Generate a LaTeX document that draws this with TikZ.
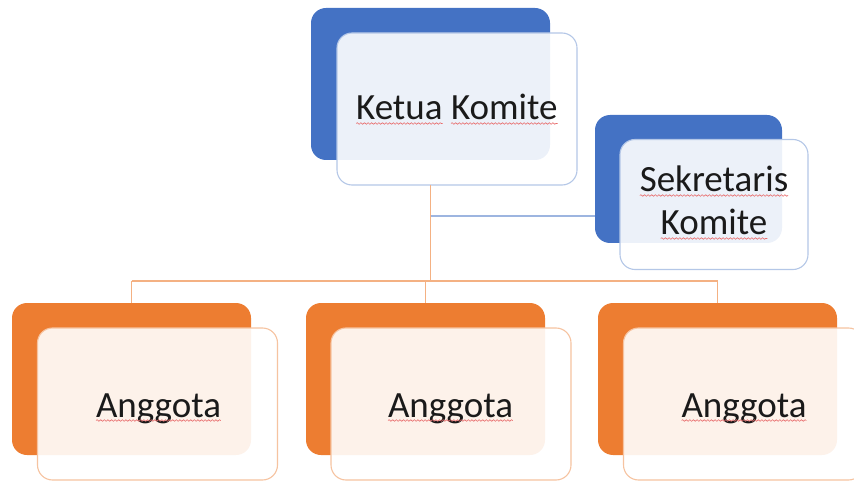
\documentclass[tikz,border=0pt]{standalone}
\usepackage{fontspec}
\setmainfont{Carlito}
\usetikzlibrary{decorations.pathmorphing}
\definecolor{blueD}{HTML}{4472C4}
\definecolor{blueL}{HTML}{B4C7E7}
\definecolor{blueLine}{HTML}{9DB5E0}
\definecolor{orangeD}{HTML}{ED7D31}
\definecolor{orangeL}{HTML}{F6C3A0}
\definecolor{orangeLine}{HTML}{F4B183}
\definecolor{waveRed}{HTML}{E86A6A}
\definecolor{txtcol}{HTML}{1A1A1A}
\begin{document}
\begin{tikzpicture}[x=1pt,y=-1pt,
  darkbox/.style={rectangle, rounded corners=15pt, inner sep=0pt, outer sep=0pt,
    minimum width=239pt, minimum height=152pt},
  lightbox/.style={rectangle, rounded corners=15pt, inner sep=0pt, outer sep=0pt,
    minimum width=240pt, minimum height=152pt, fill=white, fill opacity=0.9,
    line width=1.1pt},
  word/.style={inner sep=0pt, outer sep=0pt, anchor=base, text=txtcol,
    font=\fontsize{37}{43}\selectfont},
  squig/.style={draw=waveRed, line width=0.6pt, decorate,
    decoration={snake, segment length=3.6pt, amplitude=0.8pt}},
  orangeconn/.style={draw=orangeLine, line width=1.2pt},
  blueconn/.style={draw=blueLine, line width=1.2pt}]
\useasboundingbox (0,0) rectangle (854,481);
\clip (0,0) rectangle (854,481);
% helper coordinates
\coordinate (bus) at (0,281);
\coordinate (sj) at (0,216);
% dark boxes
\node[darkbox, fill=blueD] (ketuaD) at (430.5,84) {};
\node[darkbox, fill=blueD, minimum width=187pt, minimum height=128pt] (secD) at (688.5,179) {};
\node[darkbox, fill=orangeD] (a1D) at (131.5,379) {};
\node[darkbox, fill=orangeD] (a2D) at (425.5,379) {};
\node[darkbox, fill=orangeD] (a3D) at (717.5,379) {};
% light boxes
\node[lightbox, draw=blueL] (ketuaL) at (457,109) {};
\node[lightbox, draw=blueL, minimum width=188pt, minimum height=130pt] (secL) at (714,204.5) {};
\node[lightbox, draw=orangeL] (a1L) at (157.5,404) {};
\node[lightbox, draw=orangeL] (a2L) at (451,404) {};
\node[lightbox, draw=orangeL] (a3L) at (743.5,404) {};
% connectors
\draw[orangeconn] (ketuaD.south |- ketuaL.south) -- (ketuaD.south |- bus);
\draw[orangeconn] (a1D.north |- bus) -- (a3D.north |- bus);
\draw[orangeconn] (a1D.north |- bus) -- (a1D.north);
\draw[orangeconn] (a2D.north |- bus) -- (a2D.north);
\draw[orangeconn] (a3D.north |- bus) -- (a3D.north);
\draw[blueconn] (ketuaD.south |- sj) -- (secD.west |- sj);
% texts
\node[word, anchor=base east] (k1) at (442.5,120) {Ketua};
\node[word, anchor=base west] (k2) at (451,120) {Komite};
\node[word] (s1) at (714,192) {Sekretaris};
\node[word] (s2) at (714,235) {Komite};
\node[word] (t1) at (158.5,417) {Anggota};
\node[word] (t2) at (450.5,417) {Anggota};
\node[word] (t3) at (744,417) {Anggota};
% spell-check underlines
\foreach \w in {k1,k2,s1,s2,t1,t2,t3}
  \draw[squig] ([yshift=-3.5pt]\w.base west) -- ([yshift=-3.5pt]\w.base east);
\end{tikzpicture}
\end{document}
